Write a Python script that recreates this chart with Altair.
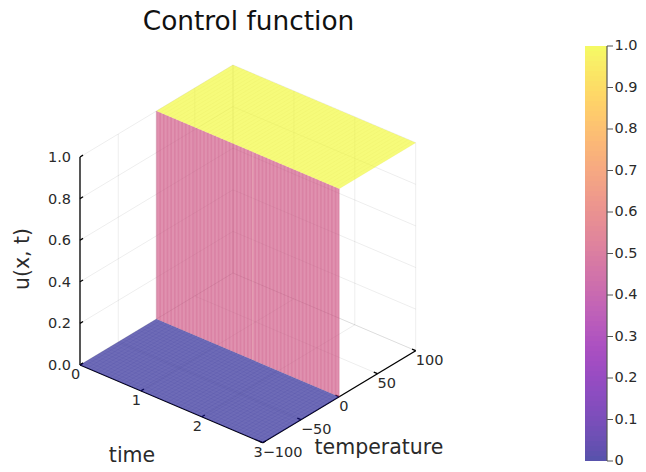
import altair as alt
import numpy as np
import pandas as pd

TITLE = "Control function"
TIME_TICKS = [0, 1, 2, 3]
TEMP_TICKS = [-100, -50, 0, 50, 100]
U_TICKS = [0.0, 0.2, 0.4, 0.6, 0.8, 1.0]
BAR_TICKS = [0, 0.1, 0.2, 0.3, 0.4, 0.5, 0.6, 0.7, 0.8, 0.9, 1.0]
BAR_LABELS = ["0", "0.1", "0.2", "0.3", "0.4", "0.5", "0.6", "0.7", "0.8", "0.9", "1.0"]
TIME_MAX = 3
TEMP_MIN, TEMP_MAX = -100, 100
U_LOW, U_JUMP, U_HIGH = 0.0, 0.5, 1.0
TEMP_SWITCH = 0
GRID_STEPS = 50
SEAM_TIME = 1.58

FONT = "DejaVu Sans"
W, H = 630, 463


def proj(t, T, u):
    f = (T - TEMP_MIN) / (TEMP_MAX - TEMP_MIN)
    return (80 + 60.9 * t + 153 * f, 365 + 25.9 * t - 92 * f - 208 * u)


xs = alt.Scale(domain=[8, 8 + W], nice=False, zero=False)
ys = alt.Scale(domain=[8 + H, 8], nice=False, zero=False)

rules = []


def rule(a, b, color, opacity, width):
    p, q = proj(*a), proj(*b)
    rules.append(dict(sx=p[0], sy=p[1], sx2=q[0], sy2=q[1], c=color, o=opacity, w=width))


def rule_layer(rows):
    return alt.Chart(pd.DataFrame(rows)).mark_rule().encode(
        x=alt.X("sx:Q", scale=xs, axis=None),
        y=alt.Y("sy:Q", scale=ys, axis=None),
        x2="sx2:Q",
        y2="sy2:Q",
        stroke=alt.Stroke("c:N", scale=None),
        opacity=alt.Opacity("o:Q", scale=None),
        strokeWidth=alt.StrokeWidth("w:Q", scale=None),
    )


# grid on the three back planes
G = ("#000000", 0.07, 1)
for u in U_TICKS:
    rule((0, TEMP_MIN, u), (0, TEMP_MAX, u), *G)
    rule((0, TEMP_MAX, u), (TIME_MAX, TEMP_MAX, u), *G)
for T in TEMP_TICKS:
    rule((0, T, 0), (0, T, 1), *G)
    rule((0, T, 0), (TIME_MAX, T, 0), *G)
for t in TIME_TICKS:
    rule((t, TEMP_MAX, 0), (t, TEMP_MAX, 1), *G)
    rule((t, TEMP_MIN, 0), (t, TEMP_MAX, 0), *G)
grid_rows = list(rules)

# axis lines
rules.clear()
A = ("#000000", 1, 1.3)
rule((0, TEMP_MIN, 0), (0, TEMP_MIN, 1), *A)
rule((0, TEMP_MIN, 0), (TIME_MAX, TEMP_MIN, 0), *A)
rule((TIME_MAX, TEMP_MIN, 0), (TIME_MAX, TEMP_MAX, 0), *A)
for u in U_TICKS:
    rule((0, TEMP_MIN, u), (0, TEMP_MIN + 4, u), *A)
for t in TIME_TICKS:
    rule((t, TEMP_MIN, 0), (t, TEMP_MIN + 4, 0), *A)
for T in TEMP_TICKS:
    rule((TIME_MAX, T, 0), (TIME_MAX - 0.06, T, 0), *A)
axis_rows = list(rules)


def area_df(corners, u):
    """Upper and lower boundary of a convex polygon, sorted by screen x."""
    pts = [proj(*c) for c in corners]
    px = sorted(set(p[0] for p in pts))
    rows = []
    n = len(pts)
    for x in px:
        hits = []
        for i in range(n):
            a, b = pts[i], pts[(i + 1) % n]
            lo, hi = min(a[0], b[0]), max(a[0], b[0])
            if lo - 1e-9 <= x <= hi + 1e-9:
                if abs(a[0] - b[0]) < 1e-9:
                    hits += [a[1], b[1]]
                else:
                    hits.append(a[1] + (b[1] - a[1]) * (x - a[0]) / (b[0] - a[0]))
        rows.append(dict(sx=x, sy=min(hits), sy2=max(hits), u=u))
    return pd.DataFrame(rows)


fill_scale = alt.Scale(scheme="plasma", domain=[0, 1])


def surface(corners, u):
    return alt.Chart(area_df(corners, u)).mark_area(opacity=0.6, stroke=None).encode(
        x=alt.X("sx:Q", scale=xs, axis=None),
        y=alt.Y("sy:Q", scale=ys, axis=None),
        y2="sy2:Q",
        fill=alt.Fill("u:Q", scale=fill_scale, legend=None),
    )


low = surface([(0, TEMP_MIN, U_LOW), (0, TEMP_SWITCH, U_LOW), (TIME_MAX, TEMP_SWITCH, U_LOW), (TIME_MAX, TEMP_MIN, U_LOW)], U_LOW)
wall = surface([(0, TEMP_SWITCH, U_LOW), (0, TEMP_SWITCH, U_HIGH), (TIME_MAX, TEMP_SWITCH, U_HIGH), (TIME_MAX, TEMP_SWITCH, U_LOW)], U_JUMP)
high = surface([(0, TEMP_SWITCH, U_HIGH), (0, TEMP_MAX, U_HIGH), (TIME_MAX, TEMP_MAX, U_HIGH), (TIME_MAX, TEMP_SWITCH, U_HIGH)], U_HIGH)

# mesh of the surface
rules.clear()
for i in range(GRID_STEPS + 1):
    t = TIME_MAX * i / GRID_STEPS
    rule((t, TEMP_SWITCH, U_LOW), (t, TEMP_SWITCH, U_HIGH), "#c4487a", 0.2, 1.6)
    rule((t, TEMP_MIN, U_LOW), (t, TEMP_SWITCH, U_LOW), "#2a2a90", 0.1, 1)
    rule((t, TEMP_SWITCH, U_HIGH), (t, TEMP_MAX, U_HIGH), "#e8e860", 0.2, 1)
for j in range(1, 25):
    T = TEMP_MIN + (TEMP_SWITCH - TEMP_MIN) * j / 25
    rule((0, T, U_LOW), (TIME_MAX, T, U_LOW), "#2a2a90", 0.06, 1)
rule((SEAM_TIME, TEMP_SWITCH, U_LOW), (SEAM_TIME, TEMP_SWITCH, U_HIGH), "#f2c0bd", 0.4, 1)
mesh_rows = list(rules)

# colour bar
BAR_X0, BAR_X1, BAR_Y0, BAR_Y1 = 585, 607, 461, 46
n_bar = (BAR_Y0 - BAR_Y1) // 5
bar_df = pd.DataFrame(
    [
        dict(
            sx=BAR_X0,
            sx2=BAR_X1,
            sy=BAR_Y0 - 5 * i,
            sy2=BAR_Y0 - 5 * (i + 1),
            u=(i + 0.5) / n_bar,
        )
        for i in range(n_bar)
    ]
)
bar = alt.Chart(bar_df).mark_rect(opacity=0.7).encode(
    x=alt.X("sx:Q", scale=xs, axis=None),
    x2="sx2:Q",
    y=alt.Y("sy:Q", scale=ys, axis=None),
    y2="sy2:Q",
    fill=alt.Fill("u:Q", scale=fill_scale, legend=None),
)


def bar_y(v):
    return BAR_Y0 + (BAR_Y1 - BAR_Y0) * v


bar_rows = [dict(sx=BAR_X1, sy=BAR_Y0, sx2=BAR_X1, sy2=BAR_Y1, c="#555555", o=1, w=1.2)]
for v in BAR_TICKS:
    bar_rows.append(dict(sx=BAR_X1, sy=bar_y(v), sx2=BAR_X1 + 6, sy2=bar_y(v), c="#555555", o=1, w=1))


def text_layer(rows, align, size, dx=0, dy=0, angle=0, color="#2a2a2a"):
    return alt.Chart(pd.DataFrame(rows)).mark_text(
        align=align, baseline="middle", font=FONT, fontSize=size, dx=dx, dy=dy, angle=angle, color=color
    ).encode(
        x=alt.X("sx:Q", scale=xs, axis=None),
        y=alt.Y("sy:Q", scale=ys, axis=None),
        text="label:N",
    )


def at(p, label):
    return dict(sx=p[0], sy=p[1], label=label)


time_text = text_layer([at(proj(t, TEMP_MIN, 0), str(t)) for t in TIME_TICKS], "center", 14.5, dx=-4.5, dy=10)
temp_text = text_layer(
    [at(proj(TIME_MAX, T, 0), str(T).replace("-", "\u2212")) for T in TEMP_TICKS], "left", 14.5, dy=10
)
u_text = text_layer([at(proj(0, TEMP_MIN, u), f"{u:.1f}") for u in U_TICKS], "right", 14.5, dx=-9, dy=1)
bar_text = text_layer(
    [at((BAR_X1 + 7.5, bar_y(v)), s) for v, s in zip(BAR_TICKS, BAR_LABELS)], "left", 14.5
)
title = text_layer([at((248.5, 22), TITLE)], "center", 26.4, color="#111111")
time_title = text_layer([at((132, 456), "time")], "center", 20.5)
temp_title = text_layer([at((379, 448), "temperature")], "center", 20.5)
u_title = text_layer([at((23, 259), "u(x, t)")], "center", 20.5, angle=270)

chart = (
    alt.layer(
        rule_layer(grid_rows),
        rule_layer(axis_rows),
        low,
        wall,
        high,
        rule_layer(mesh_rows),
        bar,
        rule_layer(bar_rows),
        time_text,
        temp_text,
        u_text,
        bar_text,
        title,
        time_title,
        temp_title,
        u_title,
    )
    .properties(width=W, height=H, padding=0, autosize=alt.AutoSizeParams(type="none"))
    .configure_view(stroke=None)
)

chart.save("out.html", embed_options={"renderer": "svg", "actions": False})
